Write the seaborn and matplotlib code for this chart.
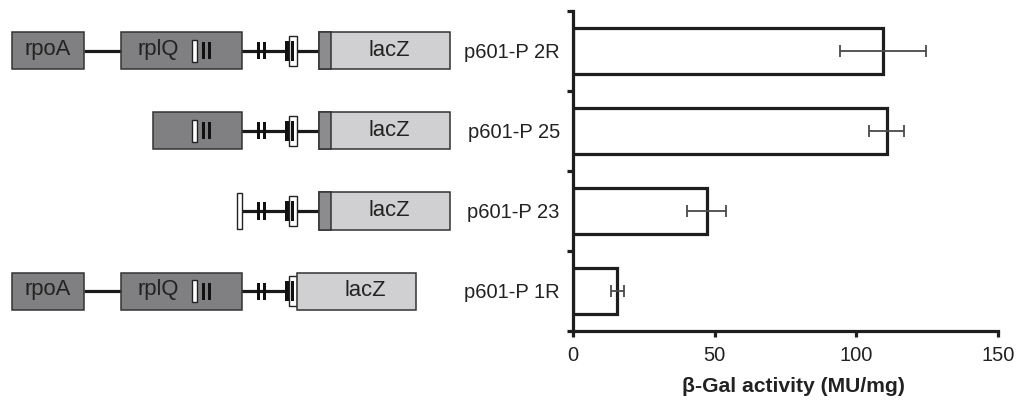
import matplotlib
matplotlib.use("Agg")
import matplotlib.pyplot as plt
from matplotlib.patches import Rectangle
import numpy as np
import pandas as pd
import seaborn as sns

# ---------------- data ----------------
constructs = ["p601-P 2R", "p601-P 25", "p601-P 23", "p601-P 1R"]
activity = [109.4, 110.8, 47.2, 15.7]
activity_err = [15.1, 6.2, 6.8, 2.2]
x_ticks = [0, 50, 100, 150]
x_label = "β-Gal activity (MU/mg)"

# gene-map schematic (x in diagram pixel units)
row_has_rpoA = [True, False, False, True]
rplQ_start = [121, 153, None, 121]
terminator_start = [None, None, 237.3, None]
lacZ_span = [(318.7, 450), (318.7, 450), (318.7, 450), (296.7, 415.7)]
lacZ_stripe = [True, True, True, False]
lacZ_text_x = [389, 389, 389, 365]

# ---------------- style ----------------
sns.set_theme(style="ticks")
plt.rcParams["font.family"] = ["Liberation Sans", "DejaVu Sans"]
INK = "#1e1e1e"
TXT = "#222222"

W, H = 1023, 403
fig = plt.figure(figsize=(W / 100, H / 100), dpi=100)
ax_rect = [573 / W, 72 / H, 424.7 / W, 320 / H]
ax = fig.add_axes(ax_rect)

df = pd.DataFrame({"construct": constructs, "activity": activity})
sns.barplot(data=df, x="activity", y="construct", orient="h", fill=False,
            color=INK, width=0.575, linewidth=2.3, errorbar=None, ax=ax)
ax.errorbar(activity, np.arange(len(activity)), xerr=activity_err, fmt="none",
            ecolor="#4a4a4a", elinewidth=1.3, capsize=4, capthick=1.3, zorder=3)

ax.set_xlim(0, 150)
ax.set_ylim(3.5, -0.5)
ax.set_xticks(x_ticks)
ax.set_xticklabels([str(t) for t in x_ticks])
ax.set_yticks(range(len(constructs)))
ax.set_yticklabels(constructs)
ax.set_yticks(np.arange(-0.5, len(constructs)), minor=True)
ax.tick_params(axis="y", which="major", length=0, pad=9.5, labelsize=14.5, labelcolor=TXT)
ax.tick_params(axis="y", which="minor", length=4.5, width=2.3, color=INK, direction="out")
ax.tick_params(axis="x", length=4.5, width=2.3, color=INK, direction="out", pad=6,
               labelsize=14.5, labelcolor=TXT)
for s in ["top", "right"]:
    ax.spines[s].set_visible(False)
for s in ["left", "bottom"]:
    ax.spines[s].set_linewidth(2.3)
    ax.spines[s].set_color(INK)
ax.set_ylabel("")
ax.set_xlabel(x_label, fontsize=15.2, fontweight="bold", color=TXT)
ax.xaxis.set_label_coords(0.519, -0.143)

# ---------------- gene-map schematic ----------------
dax = fig.add_axes([0, ax_rect[1], 460 / W, ax_rect[3]])
dax.set_xlim(0, 460)
dax.set_ylim(3.5, -0.5)
dax.axis("off")

PX = 1 / 80.0          # pixel -> y units
HB = 18.5 * PX         # half box height
DARK = "#808082"
LIGHT = "#d0d0d2"
STRIPE = "#8c8c8e"
EDGE = "#333333"
FS = 15.8


def rect(x0, x1, y, half, fc, ec=EDGE, lw=1.1, z=2):
    dax.add_patch(Rectangle((x0, y - half), x1 - x0, 2 * half, facecolor=fc,
                            edgecolor=ec, linewidth=lw, zorder=z))


for i in range(len(constructs)):
    y = i
    left = 84 if row_has_rpoA[i] else (rplQ_start[i] if rplQ_start[i] else terminator_start[i] + 4.4)
    dax.plot([left, lacZ_span[i][0]], [y, y], color="#1a1a1a", lw=2.3, zorder=1,
             solid_capstyle="butt")
    if row_has_rpoA[i]:
        rect(12.3, 84, y, HB, DARK)
        dax.text(48, y - 0.02, "rpoA", ha="center", va="center", fontsize=FS, color=TXT, zorder=4)
    if rplQ_start[i] is not None:
        rect(rplQ_start[i], 241.7, y, HB, DARK)
        if rplQ_start[i] < 130:
            dax.text(158, y - 0.02, "rplQ", ha="center", va="center", fontsize=FS, color=TXT, zorder=4)
        rect(191.7, 196.7, y, 11.3 * PX, "white", ec="#222", lw=1.0, z=3)
        rect(201.7, 205.2, y, 8.5 * PX, "#111111", ec="none", lw=0, z=3)
        rect(207.7, 211.4, y, 8.5 * PX, "#111111", ec="none", lw=0, z=3)
    if terminator_start[i] is not None:
        rect(terminator_start[i], terminator_start[i] + 4.4, y, 18 * PX, "white",
             ec="#222", lw=1.0, z=3)
    # double bars on the spacer
    rect(256.7, 259.9, y, 8.5 * PX, "#111111", ec="none", lw=0, z=3)
    rect(262.7, 265.9, y, 8.5 * PX, "#111111", ec="none", lw=0, z=3)
    # promoter mark
    rect(285.0, 288.6, y, 10 * PX, "#111111", ec="none", lw=0, z=3)
    rect(288.7, 296.7, y, 15.3 * PX, "white", ec="#222", lw=1.0, z=3)
    rect(290.9, 294.0, y, 10 * PX, "#111111", ec="none", lw=0, z=3)
    # lacZ
    x0, x1 = lacZ_span[i]
    rect(x0, x1, y, HB, LIGHT, z=4)
    if lacZ_stripe[i]:
        rect(x0, x0 + 12, y, HB, STRIPE, z=4)
    dax.text(lacZ_text_x[i], y, "lacZ", ha="center", va="center", fontsize=FS,
             color=TXT, zorder=5)

fig.savefig("out.png", dpi=100)
